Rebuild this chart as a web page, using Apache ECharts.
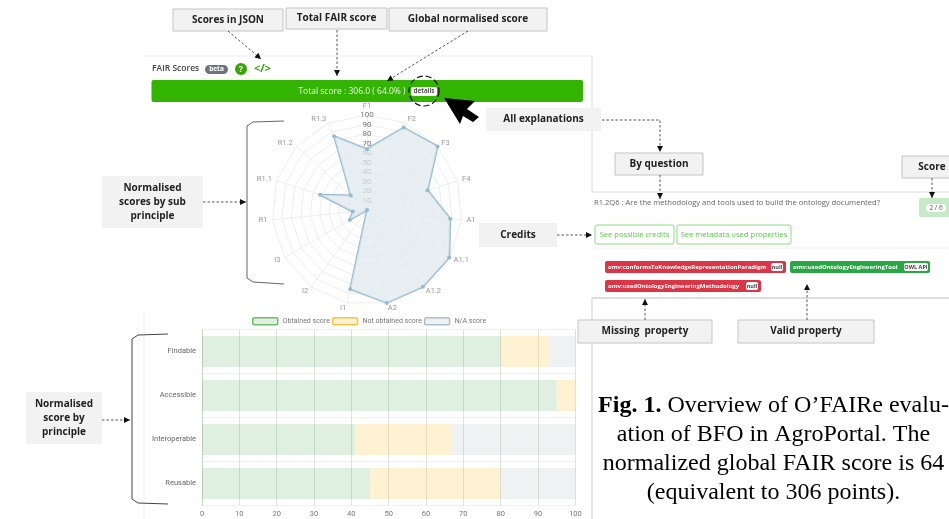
<!DOCTYPE html>
<html>
<head>
<meta charset="utf-8">
<title>FAIR scores</title>
<style>
  html, body { margin: 0; padding: 0; background: #fff; }
  #main { width: 949px; height: 519px; }
</style>
<script src="https://cdn.jsdelivr.net/npm/echarts@6/dist/echarts.min.js"></script>
</head>
<body>
<div id="main"></div>
<script>
// radar data, clockwise from the top as in the picture
var subPrinciples = ["F1", "F2", "F3", "F4", "A1", "A1.1", "A1.2", "A2", "I1", "I2", "I3", "R1", "R1.1", "R1.2", "R1.3"];
var subScores = [64, 95, 100, 67, 88, 100, 100, 100, 85, 0, 21, 15, 52, 23, 85];

// stacked bars
var principles = ["Findable", "Accessible", "Interoperable", "Reusable"];
var obtained = [80, 95, 41, 45];
var notObtained = [13, 5, 26, 35];
var notApplicable = [7, 0, 33, 20];
var xTicks = [0, 10, 20, 30, 40, 50, 60, 70, 80, 90, 100];

var sans = '"Open Sans", sans-serif';
var chrome = [];

function rect(x, y, w, h, fill, stroke, r) {
  chrome.push({
    type: "rect", silent: true,
    shape: { x: x, y: y, width: w, height: h, r: r || 0 },
    style: { fill: fill, stroke: stroke || null, lineWidth: stroke ? 1 : 0 }
  });
}
function text(str, x, y, size, color, weight, align) {
  chrome.push({
    type: "text", silent: true, x: x, y: y,
    style: {
      text: str, fill: color, align: align || "center", verticalAlign: "middle",
      font: (weight || "normal") + " " + size + "px " + sans
    }
  });
}
function line(pts, color, width, dash) {
  chrome.push({
    type: "polyline", silent: true,
    shape: { points: pts },
    style: { stroke: color, lineWidth: width || 1, lineDash: dash || null, fill: null }
  });
}
// gray label box
function box(x, y, w, h, label, stroke) {
  rect(x, y, w, h, "#f2f2f2", stroke === false ? null : "#c4c4c4");
  var lines = label.split("\n");
  lines.forEach(function (s, i) {
    text(s, x + w / 2, y + h / 2 + (i - (lines.length - 1) / 2) * 14, 10, "#222", "bold");
  });
}
// dashed arrow, head at the last point
function arrow(pts) {
  line(pts, "#444", 0.9, [2.5, 2]);
  var a = pts[pts.length - 2], b = pts[pts.length - 1];
  var t = Math.atan2(b[1] - a[1], b[0] - a[0]);
  var len = 6, wid = 3;
  var bx = b[0] - len * Math.cos(t), by = b[1] - len * Math.sin(t);
  chrome.push({
    type: "polygon", silent: true,
    shape: { points: [b, [bx - wid * Math.sin(t), by + wid * Math.cos(t)], [bx + wid * Math.sin(t), by - wid * Math.cos(t)]] },
    style: { fill: "#111" }
  });
}

// panel outlines
line([[144, 56], [592, 56]], "#ececec", 1);
line([[592, 56], [592, 192], [949, 192]], "#dcdcdc", 1);
line([[592, 298], [949, 298]], "#bdbdbd", 1);
line([[592, 298], [592, 519]], "#cfcfcf", 1);
line([[144, 310], [144, 519]], "#f0f0f0", 1);
line([[594, 248], [949, 248]], "#f0f0f0", 1);

// header of the FAIR panel
text("FAIR Scores", 152, 69, 8.5, "#444", "600", "left");
rect(205, 65, 23, 9, "#6c757d", null, 4.5);
text("beta", 216.5, 69.5, 6.5, "#fff", "bold");
chrome.push({ type: "circle", silent: true, shape: { cx: 241, cy: 69, r: 6 }, style: { fill: "#32a800" } });
text("?", 241, 69.5, 9, "#fff", "bold");
text("</>", 262.5, 69, 11, "#32a800", "bold");

rect(151.5, 80, 431.5, 22, "#32b400", null, 2);
text("Total score : 306.0 ( 64.0% )", 352, 91.5, 8.5, "#e8f7e0");
rect(411, 87, 26, 9, "#fff", null, 2);
text("details", 424, 91.5, 6.5, "#333", "600");
chrome.push({
  type: "circle", silent: true, shape: { cx: 424, cy: 91, r: 15 },
  style: { fill: null, stroke: "#111", lineWidth: 1.2, lineDash: [6, 3] }
});
chrome.push({
  type: "polygon", silent: true,
  shape: { points: [[444, 98], [460, 124], [463, 116], [473, 122], [479, 117], [467, 109], [475, 101]] },
  style: { fill: "#000" }
});

// callouts
box(173, 9, 110, 22, "Scores in JSON");
box(286, 8, 101, 21, "Total FAIR score");
box(389, 8, 158, 23, "Global normalised score");
box(486, 108, 115, 23, "All explanations", false);
box(615, 153, 88, 22, "By question");
box(902, 156, 60, 22, "Score");
box(578, 320, 134, 23, "Missing  property");
box(738, 320, 136, 23, "Valid property");
box(479, 223, 78, 24, "Credits", false);
box(102, 176, 101, 52, "Normalised\nscores by sub\nprinciple", false);
box(26, 392, 76, 52, "Normalised\nscore by\nprinciple", false);

arrow([[228, 31], [261, 59]]);
arrow([[337, 30], [337, 76]]);
arrow([[468, 31], [387, 81]]);
arrow([[602, 120], [660, 120], [660, 152]]);
arrow([[660, 175], [660, 199]]);
arrow([[932, 178], [932, 198]]);
arrow([[557, 235], [592, 235]]);
arrow([[203, 202], [246, 202]]);
arrow([[102, 420], [130, 420]]);
arrow([[645, 320], [645, 299]]);
arrow([[807, 320], [807, 284]]);

// brackets
line([[284, 121], [253, 122], [247, 126], [247, 278], [253, 282], [284, 284]], "#666", 1);
line([[168, 334], [138, 335], [132, 339], [132, 499], [138, 503], [168, 504]], "#444", 1);

// question detail
text("R1.2Q6 : Are the methodology and tools used to build the ontology documented?", 594, 203, 7.6, "#666", "normal", "left");
rect(919, 198, 34, 19, "#c6e9c6", null, 2);
rect(926, 204, 20, 8, "#fff", null, 4);
text("2 / 6", 936, 208, 6.5, "#555");
rect(595, 225, 79, 19, "#fff", "#8fdc80", 2);
text("See possible credits", 634.5, 235, 7.6, "#5cc84a");
rect(677, 225, 114, 19, "#fff", "#8fdc80", 2);
text("See metadata used properties", 734, 235, 7.6, "#5cc84a");

rect(605, 261, 181, 12, "#dc3545", null, 2);
text("omv:conformsToKnowledgeRepresentationParadigm", 608, 267, 6, "#fff", "bold", "left");
rect(771, 263, 12, 8, "#fff", null, 2);
text("null", 777, 267, 5.5, "#444", "bold");
rect(790, 261, 140, 12, "#28a745", null, 2);
text("omv:usedOntologyEngineeringTool", 793, 267, 6, "#fff", "bold", "left");
rect(904, 263, 24, 8, "#fff", null, 2);
text("OWL API", 916, 267, 5.5, "#444", "bold");
rect(605, 280, 156, 12, "#dc3545", null, 2);
text("omv:usedOntologyEngineeringMethodology", 608, 286, 6, "#fff", "bold", "left");
rect(746, 282, 12, 8, "#fff", null, 2);
text("null", 752, 286, 5.5, "#444", "bold");

// caption
var serif = '"Liberation Serif", serif';
var capSize = 24;
chrome.push({
  type: "text", silent: true, x: 773.5, y: 405.5,
  style: {
    text: "{b|Fig. 1.} Overview of O\u2019FAIRe evalu-",
    align: "center", verticalAlign: "middle",
    font: capSize + "px " + serif, fill: "#000",
    rich: { b: { font: "bold " + capSize + "px " + serif, fill: "#000" } }
  }
});
["ation of BFO in AgroPortal. The", "normalized global FAIR score is 64", "(equivalent to 306 points)."].forEach(function (s, i) {
  chrome.push({
    type: "text", silent: true, x: 773.5, y: 434.5 + i * 29,
    style: { text: s, align: "center", verticalAlign: "middle", font: capSize + "px " + serif, fill: "#000" }
  });
});

// echarts draws the radar counter-clockwise, so flip the order after F1
function flip(arr) {
  return [arr[0]].concat(arr.slice(1).reverse());
}

var myChart = echarts.init(document.getElementById("main"));
myChart.setOption({
  animation: false,
  textStyle: { fontFamily: "Roboto, sans-serif" },
  graphic: { elements: chrome },
  legend: {
    left: 252, top: 317, padding: 0, itemWidth: 25, itemHeight: 7, itemGap: 2,
    textStyle: { fontSize: 7, color: "#777" },
    data: [
      { name: "Obtained score", itemStyle: { color: "#e0efe0", borderColor: "#6dbd6d", borderWidth: 1.5 } },
      { name: "Not obtained score", itemStyle: { color: "#fdf1d3", borderColor: "#f9c440", borderWidth: 1.5 } },
      { name: "N/A score", itemStyle: { color: "#eef1f1", borderColor: "#aebfcb", borderWidth: 1.5 } }
    ]
  },
  radar: {
    center: [367, 210],
    radius: 95,
    startAngle: 90,
    splitNumber: 10,
    shape: "polygon",
    nameGap: 5,
    axisName: { color: "#999", fontSize: 7.5 },
    axisLine: { lineStyle: { color: "#eeeeee" } },
    splitLine: { lineStyle: { color: "#eeeeee" } },
    splitArea: { show: false },
    indicator: flip(subPrinciples).map(function (n) {
      return { name: n, min: 0, max: 100 };
    })
  },
  // only here for the 10..100 labels going up the F1 axis
  polar: { center: [367, 210], radius: 95 },
  angleAxis: { show: false, min: 0, max: 360, startAngle: 90 },
  radiusAxis: {
    min: 0, max: 100, interval: 10,
    axisLine: { show: false },
    axisTick: { show: false },
    splitLine: { show: false },
    axisLabel: { color: "#777", fontSize: 8, margin: 0, align: "center", showMinLabel: false }
  },
  grid: { left: 202, top: 329.5, width: 373.3, height: 176, containLabel: false },
  xAxis: {
    type: "value", min: 0, max: 100, interval: 10,
    axisLine: { show: false },
    axisTick: { show: false },
    axisLabel: { color: "#777", fontSize: 7.5, margin: 5, customValues: xTicks },
    splitLine: { show: true, lineStyle: { color: "#dfe3df" } }
  },
  yAxis: {
    type: "category", inverse: true, data: principles,
    axisLine: { lineStyle: { color: "#c5d5c5" } },
    axisTick: { show: false },
    axisLabel: { color: "#666", fontSize: 7.5, margin: 6 },
    splitLine: { show: true, lineStyle: { color: "#f1f1f1" } }
  },
  series: [
    {
      type: "radar",
      symbol: "circle", symbolSize: 4,
      itemStyle: { color: "#93bbd2" },
      lineStyle: { color: "#93bbd2", width: 2 },
      areaStyle: { color: "#dfe9ee", opacity: 0.75 },
      data: [{ value: flip(subScores), name: "Sub principle" }]
    },
    { name: "Obtained score", type: "bar", stack: "total", barWidth: 31, data: obtained, itemStyle: { color: "rgba(90,175,90,0.19)" } },
    { name: "Not obtained score", type: "bar", stack: "total", barWidth: 31, data: notObtained, itemStyle: { color: "rgba(250,200,70,0.24)" } },
    { name: "N/A score", type: "bar", stack: "total", barWidth: 31, data: notApplicable, itemStyle: { color: "rgba(140,165,170,0.15)" } }
  ]
});
</script>
</body>
</html>
